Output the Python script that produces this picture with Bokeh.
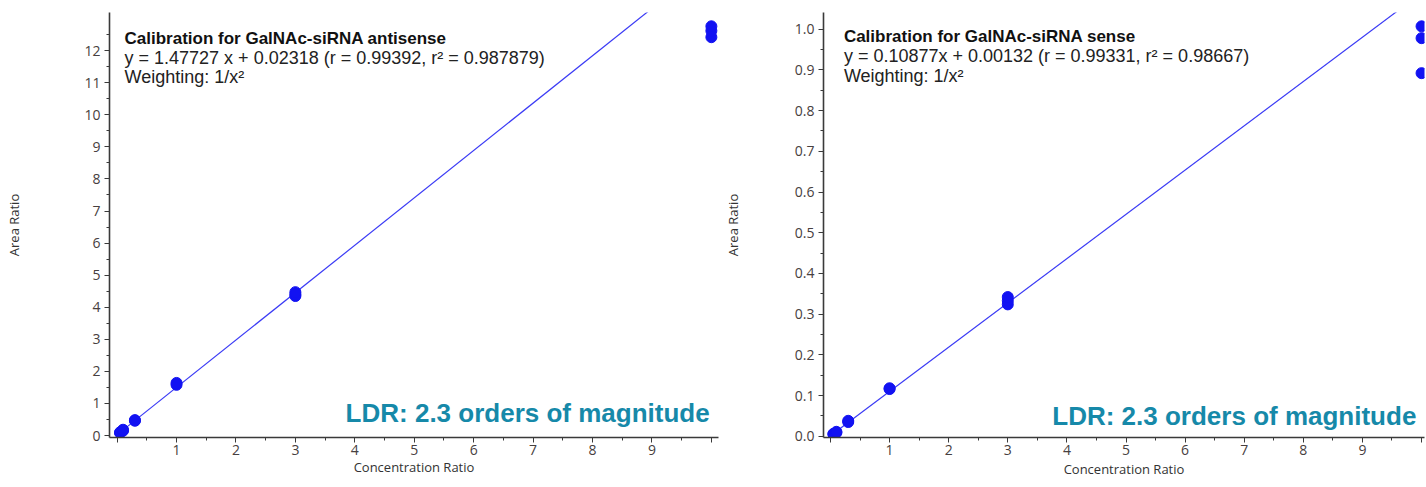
from bokeh.plotting import figure
from bokeh.layouts import row
from bokeh.models import Range1d, FixedTicker, Label, NumeralTickFormatter
from bokeh.embed import file_html
from bokeh.resources import INLINE

# ---------------- data ----------------
conc_ratio = [0.05, 0.05, 0.1, 0.1, 0.3, 0.3, 1, 1, 3, 3, 3, 10, 10, 10]
antisense_area = [0.08, 0.10, 0.15, 0.18, 0.46, 0.48, 1.58, 1.64, 4.35, 4.40, 4.47, 12.42, 12.62, 12.76]
sense_area = [0.005, 0.006, 0.009, 0.011, 0.035, 0.038, 0.116, 0.118, 0.324, 0.333, 0.342, 0.892, 0.978, 1.007]

fit_slope = [1.47727, 0.10877]
fit_intercept = [0.02318, 0.00132]
fit_x = [0.05, 10.0]

titles = ["Calibration for GalNAc-siRNA antisense", "Calibration for GalNAc-siRNA sense"]
equations = ["y = 1.47727 x + 0.02318 (r = 0.99392, r\u00b2 = 0.987879)",
             "y = 0.10877x + 0.00132 (r = 0.99331, r\u00b2 = 0.98667)"]
weighting = "Weighting: 1/x\u00b2"
ldr_text = "LDR: 2.3 orders of magnitude"
x_label = "Concentration Ratio"
y_label = "Area Ratio"

x_ticks = list(range(0, 11))
x_minor = [i + 0.5 for i in range(0, 10)]
left_y_ticks = list(range(0, 13))
left_y_minor = [i + 0.5 for i in range(0, 13)]
right_y_ticks = [i / 10 for i in range(0, 11)]
right_y_minor = [i / 20 for i in range(0, 21)]

POINT = "#1212f2"
LINE = "#3b3bf5"
TEAL = "#1689a9"
AXIS = "#3a3a3a"
TICKLBL = "#474040"
SANS = "Liberation Sans"
UI = "Open Sans"


def make_plot(width, height, mb, xr, yr, yvals, slope, icpt, yticks, yminor,
              title, eq, txt_pos, ldr_pos, ylab_standoff, xlab_standoff, yfmt=None):
    p = figure(width=width, height=height, output_backend="svg", toolbar_location=None,
               x_range=Range1d(*xr), y_range=Range1d(*yr))
    p.min_border_left, p.min_border_right, p.min_border_top, p.min_border_bottom = mb
    p.outline_line_color = None
    p.xgrid.visible = False
    p.ygrid.visible = False
    p.background_fill_color = "white"

    fx = fit_x
    fy = [slope * v + icpt for v in fx]
    p.line(fx, fy, line_color=LINE, line_width=1.2)
    p.scatter(conc_ratio, yvals, size=11, color=POINT, line_color=POINT)

    for ax in (p.xaxis[0], p.yaxis[0]):
        ax.axis_line_color = AXIS
        ax.axis_line_width = 1.6
        ax.major_tick_line_color = AXIS
        ax.minor_tick_line_color = AXIS
        ax.major_tick_out = 5
        ax.major_tick_in = 0
        ax.minor_tick_out = 3
        ax.minor_tick_in = 0
        ax.major_label_text_font = UI
        ax.major_label_text_font_size = "14px"
        ax.major_label_text_color = TICKLBL
        ax.axis_label_text_font = UI
        ax.axis_label_text_font_size = "13px"
        ax.axis_label_text_font_style = "normal"
        ax.axis_label_text_color = "#333333"

    xa = p.xaxis[0]
    xa.ticker = FixedTicker(ticks=x_ticks, minor_ticks=x_minor)
    xa.major_label_overrides = {0: "", 10: ""}
    xa.axis_label = x_label
    xa.major_label_standoff = 2
    xa.axis_label_standoff = xlab_standoff

    ya = p.yaxis[0]
    ya.ticker = FixedTicker(ticks=yticks, minor_ticks=yminor)
    if yfmt:
        ya.formatter = NumeralTickFormatter(format=yfmt)
    ya.major_label_standoff = 4
    ya.axis_label = y_label
    ya.axis_label_standoff = ylab_standoff

    tx, ty1, ty2, ty3 = txt_pos
    p.add_layout(Label(x=tx, y=ty1, text=title, text_font=SANS, text_font_size="17px",
                       text_font_style="bold", text_color="#111111", text_baseline="alphabetic"))
    p.add_layout(Label(x=tx, y=ty2, text=eq, text_font=SANS, text_font_size="18px",
                       text_color="#222222", text_baseline="alphabetic"))
    p.add_layout(Label(x=tx, y=ty3, text=weighting, text_font=SANS, text_font_size="18px",
                       text_color="#222222", text_baseline="alphabetic"))
    lx, ly = ldr_pos
    p.add_layout(Label(x=lx, y=ly, text=ldr_text, text_font=SANS, text_font_size="26px",
                       text_font_style="bold", text_color=TEAL, text_baseline="alphabetic"))
    return p


H = 487
p1 = make_plot(720, H, (109, 2, 12, H - 440), (-0.128, 10.12), (-0.062, 13.19),
               antisense_area, fit_slope[0], fit_intercept[0], left_y_ticks, left_y_minor,
               titles[0], equations[0], (0.125, 12.38, 11.76, 11.17), (3.845, 0.69),
               58, 0)
p2 = make_plot(706, H, (103, 2, 12, H - 437), (-0.118, 10.05), (-0.003, 1.041),
               sense_area, fit_slope[1], fit_intercept[1], right_y_ticks, right_y_minor,
               titles[1], equations[1], (0.227, 0.982, 0.934, 0.885), (3.753, 0.049),
               50, 2, "0.0")

layout = row(p1, p2)
open("out.html", "w").write(file_html(layout, INLINE))
